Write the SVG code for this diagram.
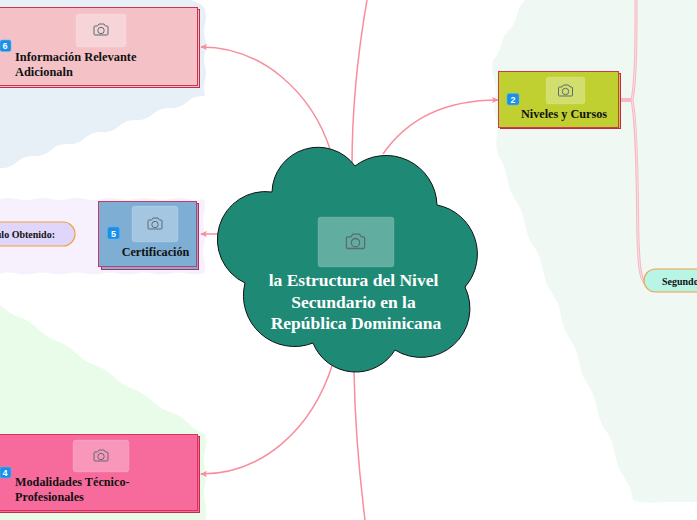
<svg xmlns="http://www.w3.org/2000/svg" width="697" height="520" viewBox="0 0 697 520">
<style>
.t{font-family:"Liberation Serif",serif;font-weight:700;fill:#111}
.lnk{fill:none;stroke:#f98d9d;stroke-width:1.5}
.badge{fill:#1a8fe8;stroke:#57b4f5;stroke-width:.6}
.bt{font-family:"Liberation Sans",sans-serif;font-weight:700;font-size:9px;fill:#fff;text-anchor:middle}
.img{fill:#fff;fill-opacity:.3;stroke:#fff;stroke-opacity:.12}
.pill{stroke:#f0a040;stroke-width:1.2}
</style>
<defs>
<marker id="a" viewBox="0 0 8 8" refX="7" refY="4" markerWidth="7" markerHeight="7" orient="auto" markerUnits="userSpaceOnUse"><path d="M0,.5L8,4L0,7.5L2,4Z" fill="#f98d9d"/></marker>
<g id="cam" fill="none" stroke="#5d6b70" stroke-width="1"><path d="M-6,-4H-3.500L-2,-6H3L4.500,-4H6Q7,-4 7,-3V4Q7,5 6,5H-6Q-7,5 -7,4V-3Q-7,-4 -6,-4Z"/><circle cx="0" cy="0.500" r="3.200"/></g>
</defs>
<g id="backgrounds">
<path fill="#e8f0f7" d="M0,0H190Q203,3 205,10q2,6 0,14t0,14t0,14t0,14t0,14t0,14l-1,2q-9,-1 -17,6t-17,6t-17,6t-17,6t-17,6t-17,6t-17,6t-17,6t-17,6t-17,6t-17,6t-17,6V0Z"/>
<path fill="#f7f0fd" d="M0,199q8,-2 17,0t17,0t17,0t17,0t17,0t17,0t17,0t17,0t17,0t17,0t17,0t17,0q2,8 0,15t0,15t0,15t0,15t0,14.500q-8,2 -17,0t-17,0t-17,0t-17,0t-17,0t-17,0t-17,0t-17,0t-17,0t-17,0t-17,0t-17,0Z"/>
<path fill="#e9fce9" d="M0,305q8,8 19,12t19,12t19,12t19,12t19,12t19,12t19,12t19,12q8,8 18,11t18,11t17,11q2,8 0,17t0,17t0,17t0,17t0,20H0Z"/>
<path fill="#f0f8f4" d="M525,0q-6,6 -8,15t-8,15t-8,15t-8,15q-2,10 1,19t1,19t1,19t1,19t1,19q7,10 9,23t9,23t9,23t9,23t9,23t9,23t9,23t9,23t9,23t9,23t9,23t9,23t9,23t9,23t9,23q8,4 31,2H697V0Z"/>
</g>
<g id="connectors">
<path class="lnk" marker-end="url(#a)" d="M331,152C312,92 262,47 201,47"/>
<path class="lnk" marker-end="url(#a)" d="M218,234H201"/>
<path class="lnk" marker-end="url(#a)" d="M333,363C312,430 262,474 201,474"/>
<path class="lnk" marker-end="url(#a)" d="M383,154C405,122 440,100 498,100"/>
<path class="lnk" d="M352,166C352,100 360,40 367,0"/>
<path class="lnk" d="M354,371C355,430 360,480 365,520"/>
<path fill="none" stroke="#f7b8c3" stroke-width="4" d="M621,100H632"/>
<path fill="none" stroke="#f7b8c3" stroke-width="3" d="M632,100C636,80 636,40 636,0M632,100C638,130 637,200 638,240C639,265 640,278 645,283"/>
<path fill="none" stroke="#fbdfe4" stroke-width="1" d="M632,100C636,80 636,40 636,0M632,100C638,130 637,200 638,240C639,265 640,278 645,283"/>
</g>
<g id="node-6">
<rect x="-6.500" y="9.500" width="206" height="78" fill="#f4c2c6" stroke="#c52a48"/>
<rect x="-6.500" y="7.500" width="204" height="78" fill="#f4c2c6" stroke="#cd3250"/>
<rect class="img" x="76" y="14" width="50" height="33" rx="3"/><use href="#cam" x="101" y="30"/>
<rect class="badge" x="0" y="40" width="11" height="11.500" rx="2"/><text class="bt" x="5" y="49">6</text>
<text class="t" font-size="12.400" x="15" y="61">Información Relevante</text>
<text class="t" font-size="12.400" x="15" y="76">Adicionaln</text>
</g>
<g id="node-5">
<rect x="101.500" y="203.500" width="97" height="66" fill="#7eaed4" stroke="#a8325e"/>
<rect x="98.500" y="201.500" width="98" height="65" fill="#7eaed4" stroke="#cb3a63"/>
<rect class="img" x="132" y="206" width="46" height="36" rx="3"/><use href="#cam" x="155" y="224"/>
<rect class="badge" x="107.500" y="227" width="12" height="12" rx="2"/><text class="bt" x="113.500" y="236.500">5</text>
<text class="t" font-size="12.200" x="155.500" y="256" text-anchor="middle">Certificación</text>
</g>
<g id="node-titulo">
<rect class="pill" x="-60" y="222" width="135" height="24" rx="12" fill="#e0d6fb"/>
<text class="t" font-size="10" x="55" y="238" text-anchor="end">Título Obtenido:</text>
</g>
<g id="node-4">
<rect x="-6.500" y="436.500" width="206" height="76" fill="#f76b9c" stroke="#c9284f"/>
<rect x="-6.500" y="434.500" width="204" height="76" fill="#f76b9c" stroke="#d8325a"/>
<rect class="img" x="73" y="440" width="56" height="32" rx="3"/><use href="#cam" x="101" y="456"/>
<rect class="badge" x="0" y="467" width="11" height="11" rx="2"/><text class="bt" x="5" y="476">4</text>
<text class="t" font-size="12.200" x="15" y="486">Modalidades Técnico-</text>
<text class="t" font-size="12.200" x="15" y="501">Profesionales</text>
</g>
<g id="node-2">
<rect x="500.500" y="73.500" width="120" height="55" fill="#bfd030" stroke="#c22a3e"/>
<rect x="498.500" y="71.500" width="120" height="56" fill="#bfd030" stroke="#cc3a50"/>
<rect class="img" x="546" y="77" width="39" height="27" rx="3"/><use href="#cam" x="565.500" y="91"/>
<rect class="badge" x="507" y="93.500" width="12" height="11.500" rx="2"/><text class="bt" x="513" y="102.500">2</text>
<text class="t" font-size="12.200" x="564" y="118" text-anchor="middle">Niveles y Cursos</text>
</g>
<g id="node-segundo">
<rect class="pill" x="644" y="269" width="90" height="23" rx="11.500" fill="#b9f5e4"/>
<text class="t" font-size="10" x="662" y="285">Segundo</text>
</g>
<g id="node-center">
<path fill="#1e8a76" stroke="#111" stroke-width="1" d="M272,192A46,46 0 0 1 355,166A51,51 0 0 1 437,205A50,50 0 0 1 465,287A49,49 0 0 1 395,350A46,46 0 0 1 313,343A51,51 0 0 1 245,283A48,48 0 0 1 272,192Z"/>
<rect class="img" x="318" y="217" width="76" height="50" rx="3"/>
<use href="#cam" transform="translate(355.500 242) scale(1.300)"/>
<g class="t" font-size="17.500" text-anchor="middle" style="fill:#fff">
<text x="353.500" y="286">la Estructura del Nivel</text>
<text x="353.500" y="308">Secundario en la</text>
<text x="356" y="329">República Dominicana</text>
</g>
</g>
</svg>
